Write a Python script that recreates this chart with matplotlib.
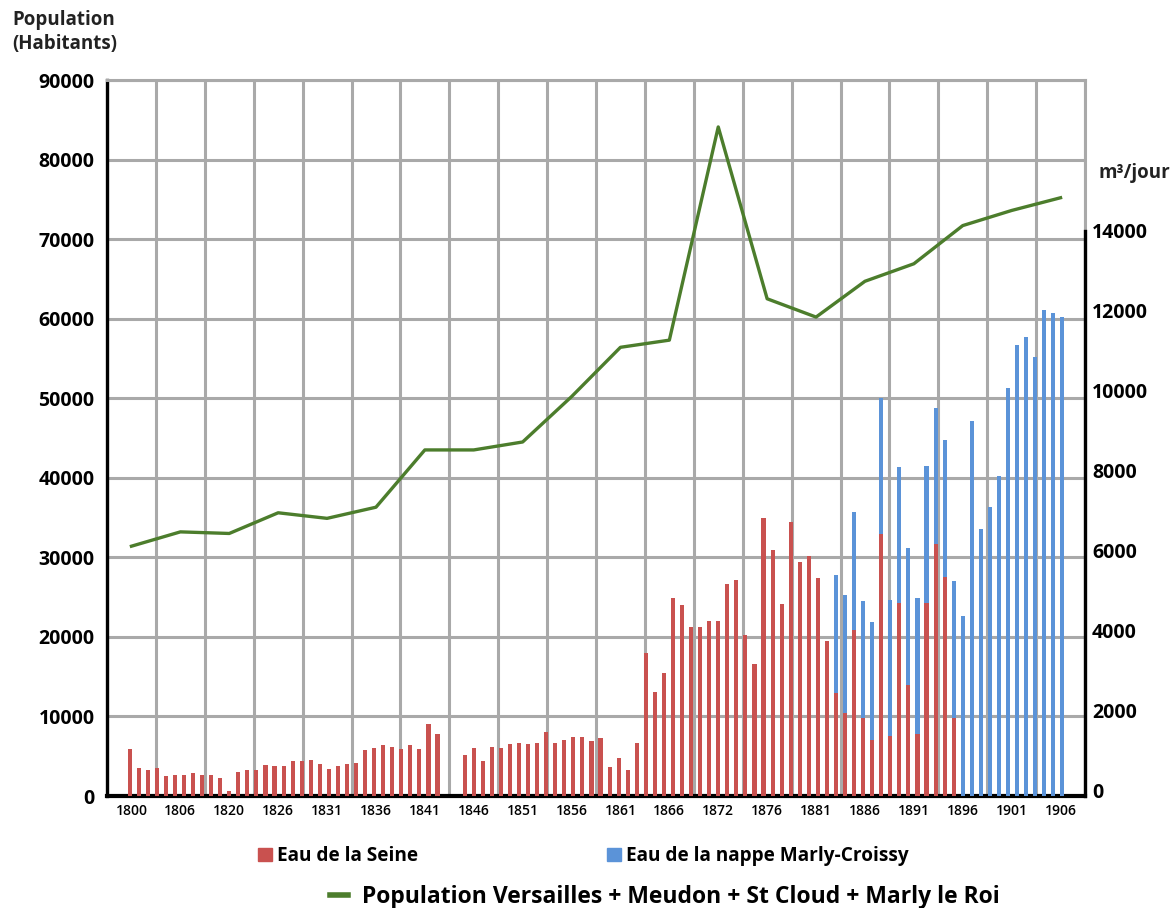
import numpy as np
import matplotlib.pyplot as plt
from matplotlib.patches import Patch
from matplotlib.lines import Line2D

plt.rcParams['font.family'] = ['Open Sans', 'DejaVu Sans']

# column labels of the x axis (20 columns)
labels = ['1800', '1806', '1820', '1826', '1831', '1836', '1841', '1846', '1851', '1856',
          '1861', '1866', '1872', '1876', '1881', '1886', '1891', '1896', '1901', '1906']

# population, one point per column
population = [31400, 33200, 33000, 35600, 34900, 36300, 43500, 43500, 44500, 50200,
              56400, 57300, 84100, 62500, 60200, 64700, 66900, 71700, 73600, 75200]

# water supply in m3/jour, one bar per year (0 = no data)
seine = [1170, 710, 640, 710, 500, 520, 530, 580, 525, 520,
         450, 135, 590, 640, 640, 780, 750, 760, 870, 870,
         890, 790, 680, 750, 790, 820, 1150, 1190, 1270, 1230,
         1180, 1270, 1170, 1800, 1560, 0, 0, 1020, 1190, 870,
         1230, 1190, 1310, 1320, 1300, 1335, 1600, 1320, 1400, 1480,
         1470, 1370, 1440, 735, 940, 650, 1320, 3570, 2610, 3090,
         4960, 4780, 4240, 4220, 4370, 4370, 5320, 5410, 4020, 3300,
         6950, 6150, 4810, 6870, 5870, 6000, 5450, 3890, 2580, 2090,
         4160, 1945, 1400, 6560, 1500, 4830, 2780, 1550, 4840, 6300,
         5490, 1960, 0, 0, 0, 0, 0, 0, 0, 0,
         0, 0, 0, 0]
marly = [0] * 78 + [
         2960, 2940,
         2940, 2940, 2960, 3410, 3420, 3410, 3420, 3420, 3420, 3420,
         3420, 3430, 4520, 9390, 6690, 7230, 8010, 10220, 11290, 11500,
         11000, 12170, 12090, 11990]

red = '#c9514f'
blue = '#5b93d8'
green = '#4c7d2c'
grey = '#a9a9a9'

nslots = 108
ncols = len(labels)
colw = nslots / ncols
xbar = np.arange(len(seine)) + 2.5
xcol = (np.arange(ncols) + 0.5) * colw
base = -150

fig = plt.figure(figsize=(11.72, 9.08), dpi=100)
ax = fig.add_axes([107/1172, 1-796/908, 978/1172, 716/908])
ax2 = ax.twinx()

ax.set_xlim(0, nslots)
ax.set_ylim(0, 90000)
ax2.set_ylim(-150, 17780)

ax.set_yticks(range(0, 90001, 10000))
ax.set_xticks(xcol)
ax.set_xticklabels(labels)
ax.set_xticks(np.arange(ncols + 1) * colw, minor=True)
ax.grid(axis='y', color=grey, lw=2.2)
ax.grid(axis='x', which='minor', color=grey, lw=2.2)
ax.set_axisbelow(True)
ax.tick_params(axis='y', length=0, pad=9, labelsize=14)
ax.tick_params(axis='x', which='both', length=0, pad=6, labelsize=10)
for t in ax.get_yticklabels():
    t.set_fontweight('bold')
for t in ax.get_xticklabels():
    t.set_fontweight('semibold')

ax.spines['left'].set_linewidth(2.4)
ax.spines['bottom'].set_linewidth(3)
ax.spines['top'].set_color(grey)
ax.spines['top'].set_linewidth(2.2)
ax.spines['right'].set_color(grey)
ax.spines['right'].set_linewidth(2.2)

ax.plot(xcol, population, color=green, lw=2.4, zorder=5)

ax2.bar(xbar, seine, width=0.45, bottom=base, color=red)
ax2.bar(xbar, marly, width=0.45, bottom=base + np.array(seine), color=blue)
ax2.set_yticks(range(0, 14001, 2000))
ax2.tick_params(axis='y', length=0, pad=5, labelsize=14)
for t in ax2.get_yticklabels():
    t.set_fontweight('bold')
for s in ['top', 'left', 'bottom']:
    ax2.spines[s].set_visible(False)
ax2.spines['right'].set_linewidth(2.4)
ax2.spines['right'].set_bounds(-150, 14000)

fig.text(12/1172, 1-10/908, 'Population\n(Habitants)', ha='left', va='top',
         fontsize=13.5, fontweight='bold', linespacing=1.25, color='#222222')
fig.text(1099/1172, 1-173/908, 'm³/jour', ha='left', va='center',
         fontsize=13.5, fontweight='bold', color='#222222')

h1 = [Patch(color=red), Patch(color=blue)]
fig.legend(h1, ['Eau de la Seine', 'Eau de la nappe Marly-Croissy'], ncol=2,
           loc='center left', bbox_to_anchor=(258/1172, 1-856/908), frameon=False,
           handlelength=0.72, handleheight=0.72, handletextpad=0.3,
           columnspacing=9.9, borderpad=0, borderaxespad=0,
           prop={'size': 13.7, 'weight': 'bold'})
h2 = [Line2D([], [], color=green, lw=4)]
fig.legend(h2, ['Population Versailles + Meudon + St Cloud + Marly le Roi'],
           loc='center left', bbox_to_anchor=(330/1172, 1-897/908), frameon=False,
           handlelength=0.78, handletextpad=0.6, borderpad=0, borderaxespad=0,
           prop={'size': 16.5, 'weight': 'bold'})

fig.savefig('out.png', dpi=100)
